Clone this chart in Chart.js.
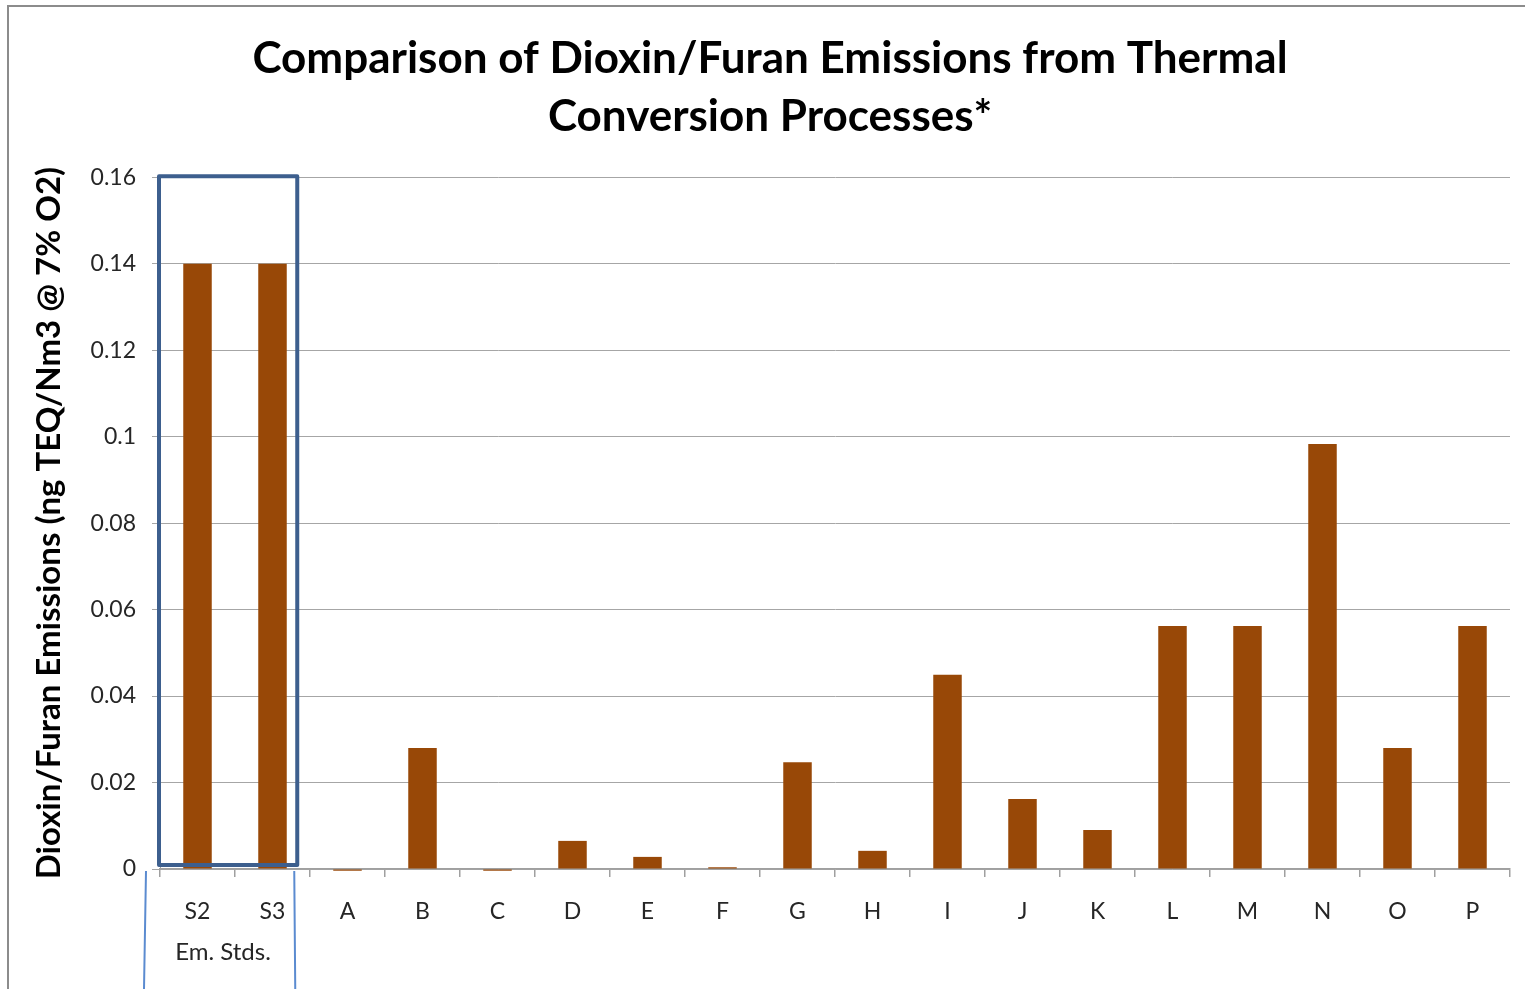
<!DOCTYPE html>
<html lang="en">
<head>
  <meta charset="UTF-8">
  <title>Dioxin/Furan Emissions</title>
  <style>
    body { margin: 0; padding: 0; background: #fff; }
    canvas { display: block; }
  </style>
</head>
<body>
  <canvas id="chart" width="1525" height="989"></canvas>

  <script src="https://cdn.jsdelivr.net/npm/chart.js"></script>
  <script>
    // Data
    const categories = ['S2', 'S3', 'A', 'B', 'C', 'D', 'E', 'F', 'G', 'H', 'I', 'J', 'K', 'L', 'M', 'N', 'O', 'P'];
    const emissions = [0.14, 0.14, -0.0004, 0.028, -0.0004, 0.0065, 0.0028, 0.0004, 0.0247, 0.0042, 0.0449, 0.0162, 0.009, 0.0562, 0.0562, 0.0983, 0.028, 0.0562];
    const yTicks = [0, 0.02, 0.04, 0.06, 0.08, 0.1, 0.12, 0.14, 0.16];
    const groupLabel = 'Em. Stds.';

    const fontFamily = 'Lato, "Open Sans", sans-serif';

    // Frame, the blue box around the standards and the group label
    const decorations = {
      id: 'decorations',
      beforeDraw(chart) {
        const c = chart.ctx;
        c.save();
        c.fillStyle = '#fff';
        c.fillRect(0, 0, chart.width, chart.height);
        c.strokeStyle = '#8c8c8c';
        c.lineWidth = 2;
        c.beginPath();
        c.moveTo(8, chart.height);
        c.lineTo(8, 6);
        c.lineTo(chart.width, 6);
        c.stroke();
        c.restore();
      },
      afterDraw(chart) {
        const c = chart.ctx;
        const x = chart.scales.x;
        const y = chart.scales.y;
        const step = x.getPixelForValue(1) - x.getPixelForValue(0);
        const left = x.left - 1;
        const right = x.getPixelForValue(1) + step * 0.33;
        const top = y.getPixelForValue(0.16) - 1;
        const bottom = y.getPixelForValue(0) - 4;
        c.save();
        c.strokeStyle = '#3d5f8e';
        c.lineWidth = 4;
        c.lineJoin = 'round';
        c.strokeRect(left, top, right - left, bottom - top);

        c.strokeStyle = '#5b8bd0';
        c.lineWidth = 2;
        c.beginPath();
        c.moveTo(left - 13, y.bottom + 2);
        c.lineTo(left - 15, chart.height);
        c.moveTo(right - 3, y.bottom + 2);
        c.lineTo(right - 2, chart.height);
        c.stroke();

        c.fillStyle = '#262626';
        c.font = '24px ' + fontFamily;
        c.textAlign = 'center';
        c.textBaseline = 'middle';
        c.fillText(groupLabel, (x.getPixelForValue(0) + x.getPixelForValue(1)) / 2 - 12, 952);
        c.restore();
      }
    };

    const ctx = document.getElementById('chart').getContext('2d');
    new Chart(ctx, {
      type: 'bar',
      data: {
        labels: categories,
        datasets: [{
          data: emissions,
          backgroundColor: '#984807',
          borderWidth: 0,
          categoryPercentage: 1,
          barPercentage: 0.38,
          clip: false
        }]
      },
      options: {
        responsive: false,
        animation: false,
        layout: { padding: { left: 30, right: 15, top: 0, bottom: 0 } },
        plugins: {
          legend: { display: false },
          tooltip: { enabled: false },
          title: {
            display: true,
            text: ['Comparison of Dioxin/Furan Emissions from Thermal', 'Conversion Processes*'],
            color: '#000',
            font: { family: fontFamily, size: 44, weight: 'bold', lineHeight: 1.32 },
            padding: { top: 30, bottom: 31 }
          }
        },
        scales: {
          x: {
            grid: {
              offset: true,
              drawOnChartArea: false,
              color: '#a0a0a0',
              tickLength: 8,
              lineWidth: 1.5
            },
            border: { color: '#a0a0a0', width: 1.5 },
            ticks: {
              color: '#262626',
              font: { family: fontFamily, size: 23 },
              padding: 21,
              maxRotation: 0
            },
            afterFit(scale) { scale.height = 120; }
          },
          y: {
            min: 0,
            max: 0.16,
            afterBuildTicks(scale) { scale.ticks = yTicks.map(v => ({ value: v })); },
            grid: { color: '#a6a6a6', tickLength: 8, lineWidth: 1 },
            border: { color: '#a0a0a0' },
            ticks: {
              color: '#262626',
              font: { family: fontFamily, size: 23 },
              padding: 16,
              callback: v => String(Number(v.toFixed(2)))
            },
            title: {
              display: true,
              text: 'Dioxin/Furan Emissions (ng TEQ/Nm3 @ 7% O2)',
              color: '#000',
              font: { family: fontFamily, size: 33, weight: 'bold' },
              padding: { top: 0, bottom: 10 }
            },
            afterFit(scale) { scale.width = 130; }
          }
        }
      },
      plugins: [decorations]
    });
  </script>
</body>
</html>
